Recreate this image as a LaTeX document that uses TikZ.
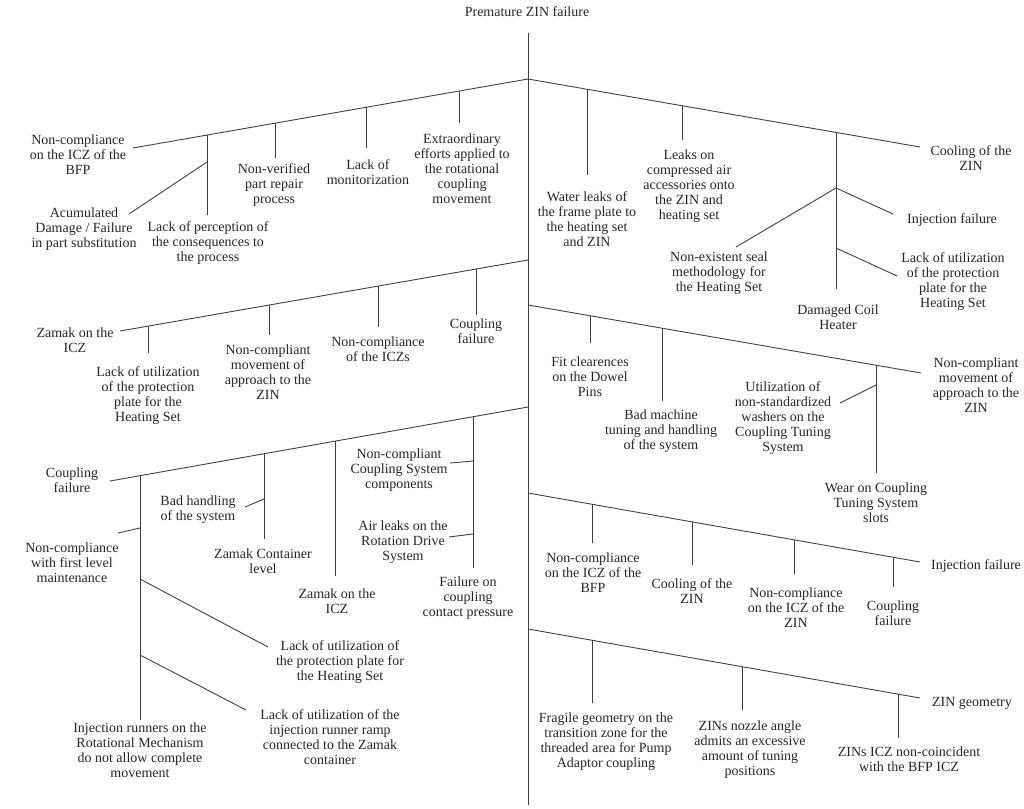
\documentclass[tikz,border=0pt]{standalone}
\usepackage{fontspec}
\setmainfont{Liberation Serif}
\begin{document}
\begin{tikzpicture}[x=1pt,y=-1pt,
  lbl/.style={align=center,inner sep=0pt,text=black!85,font=\fontsize{14}{15}\selectfont},
  ln/.style={line width=0.9pt,draw=black!75}]
\useasboundingbox (0,0) rectangle (1024,808);
% ---------- spine ----------
\node[lbl] (title) at (527,12) {Premature ZIN failure};
\coordinate (top) at (528,33);
\coordinate (bot) at (528,805);
\draw[ln] (top) -- (bot);
% ---------- L1 ----------
\coordinate (sL1) at (528,79);  \coordinate (eL1) at (133,148);
\coordinate (L1a) at (207,135.1); \coordinate (L1ab) at (207,215);
\coordinate (L1d) at (207,162);   \coordinate (L1de) at (129,214);
\coordinate (L1b) at (275,123.2); \coordinate (L1bb) at (275,158);
\coordinate (L1c) at (366,107.3); \coordinate (L1cb) at (366,148);
\coordinate (L1e) at (459,91.1);  \coordinate (L1eb) at (459,123);
\draw[ln] (sL1) -- (eL1);
\draw[ln] (L1a) -- (L1ab);
\draw[ln] (L1d) -- (L1de);
\draw[ln] (L1b) -- (L1bb);
\draw[ln] (L1c) -- (L1cb);
\draw[ln] (L1e) -- (L1eb);
\node[lbl] (nL1) at (78,155) {Non-compliance\\on the ICZ of the\\BFP};
\node[lbl] (nL1d) at (84,229) {Acumulated\\Damage / Failure\\in part substitution};
\node[lbl] (nL1a) at (208,243) {Lack of perception of\\the consequences to\\the process};
\node[lbl] (nL1b) at (274,185) {Non-verified\\part repair\\process};
\node[lbl] (nL1c) at (368,172) {Lack of\\monitorization};
\node[lbl] (nL1e) at (462,169) {Extraordinary\\efforts applied to\\the rotational\\coupling\\movement};
% ---------- R1 ----------
\coordinate (sR1) at (528,79);  \coordinate (eR1) at (920,147);
\coordinate (R1a) at (587,89.2);  \coordinate (R1ab) at (587,175);
\coordinate (R1b) at (682,105.7); \coordinate (R1bb) at (682,140);
\coordinate (R1c) at (836,132.4); \coordinate (R1cb) at (836,289);
\coordinate (R1j1) at (836,188);  \coordinate (R1j1l) at (736,247); \coordinate (R1j1r) at (893,214);
\coordinate (R1j2) at (836,248);  \coordinate (R1j2r) at (897,276);
\draw[ln] (sR1) -- (eR1);
\draw[ln] (R1a) -- (R1ab);
\draw[ln] (R1b) -- (R1bb);
\draw[ln] (R1c) -- (R1cb);
\draw[ln] (R1j1) -- (R1j1l);
\draw[ln] (R1j1) -- (R1j1r);
\draw[ln] (R1j2) -- (R1j2r);
\node[lbl] (nR1) at (971,158) {Cooling of the\\ZIN};
\node[lbl] (nR1a) at (587,219) {Water leaks of\\the frame plate to\\the heating set\\and ZIN};
\node[lbl] (nR1b) at (689,186) {Leaks on\\compressed air\\accessories onto\\the ZIN and\\heating set};
\node[lbl] (nR1l) at (719,273) {Non-existent seal\\methodology for\\the Heating Set};
\node[lbl] (nR1r) at (952,220) {Injection failure};
\node[lbl] (nR1p) at (953,282) {Lack of utilization\\of the protection\\plate for the\\Heating Set};
\node[lbl] (nR1c) at (838,317) {Damaged Coil\\Heater};
% ---------- L2 ----------
\coordinate (sL2) at (528,260); \coordinate (eL2) at (120,331);
\coordinate (L2a) at (148,326.1); \coordinate (L2ab) at (148,353);
\coordinate (L2b) at (269,305.1); \coordinate (L2bb) at (269,335);
\coordinate (L2c) at (378,286.1); \coordinate (L2cb) at (378,327);
\coordinate (L2d) at (476,269);   \coordinate (L2db) at (476,315);
\draw[ln] (sL2) -- (eL2);
\draw[ln] (L2a) -- (L2ab);
\draw[ln] (L2b) -- (L2bb);
\draw[ln] (L2c) -- (L2cb);
\draw[ln] (L2d) -- (L2db);
\node[lbl] (nL2) at (75,340) {Zamak on the\\ICZ};
\node[lbl] (nL2a) at (148,396) {Lack of utilization\\of the protection\\plate for the\\Heating Set};
\node[lbl] (nL2b) at (268,372) {Non-compliant\\movement of\\approach to the\\ZIN};
\node[lbl] (nL2c) at (378,349) {Non-compliance\\of the ICZs};
\node[lbl] (nL2d) at (476,331) {Coupling\\failure};
% ---------- R2 ----------
\coordinate (sR2) at (528,305); \coordinate (eR2) at (921,373);
\coordinate (R2a) at (590,315.7); \coordinate (R2ab) at (590,343);
\coordinate (R2b) at (662,328.2); \coordinate (R2bb) at (662,401);
\coordinate (R2c) at (876,365.2); \coordinate (R2cb) at (876,473);
\coordinate (R2d) at (876,385);   \coordinate (R2de) at (840,403);
\draw[ln] (sR2) -- (eR2);
\draw[ln] (R2a) -- (R2ab);
\draw[ln] (R2b) -- (R2bb);
\draw[ln] (R2c) -- (R2cb);
\draw[ln] (R2d) -- (R2de);
\node[lbl] (nR2) at (976,385) {Non-compliant\\movement of\\approach to the\\ZIN};
\node[lbl] (nR2a) at (590,377) {Fit clearences\\on the Dowel\\Pins};
\node[lbl] (nR2b) at (661,431) {Bad machine\\tuning and handling\\of the system};
\node[lbl] (nR2d) at (783,418) {Utilization of\\non-standardized\\washers on the\\Coupling Tuning\\System};
\node[lbl] (nR2c) at (876,503) {Wear on Coupling\\Tuning System\\slots};
% ---------- L3 ----------
\coordinate (sL3) at (528,407); \coordinate (eL3) at (110,481);
\coordinate (L3a) at (140,475.7); \coordinate (L3ab) at (140,720);
\coordinate (L3a1) at (140,528);  \coordinate (L3a1e) at (118,533);
\coordinate (L3a2) at (140,579);  \coordinate (L3a2e) at (268,647);
\coordinate (L3a3) at (140,655);  \coordinate (L3a3e) at (246,710);
\coordinate (L3b) at (264,453.7); \coordinate (L3bb) at (264,539);
\coordinate (L3b1) at (264,499);  \coordinate (L3b1e) at (245,507);
\coordinate (L3c) at (335,441.2); \coordinate (L3cb) at (335,576);
\coordinate (L3d) at (473,416.7); \coordinate (L3db) at (473,568);
\coordinate (L3d1) at (473,461);  \coordinate (L3d1e) at (450,463);
\coordinate (L3d2) at (473,534);  \coordinate (L3d2e) at (449,537);
\draw[ln] (sL3) -- (eL3);
\draw[ln] (L3a) -- (L3ab);
\draw[ln] (L3a1) -- (L3a1e);
\draw[ln] (L3a2) -- (L3a2e);
\draw[ln] (L3a3) -- (L3a3e);
\draw[ln] (L3b) -- (L3bb);
\draw[ln] (L3b1) -- (L3b1e);
\draw[ln] (L3c) -- (L3cb);
\draw[ln] (L3d) -- (L3db);
\draw[ln] (L3d1) -- (L3d1e);
\draw[ln] (L3d2) -- (L3d2e);
\node[lbl] (nL3) at (72,480) {Coupling\\failure};
\node[lbl] (nL3a1) at (72,563) {Non-compliance\\with first level\\maintenance};
\node[lbl] (nL3a2) at (340,662) {Lack of utilization of\\the protection plate for\\the Heating Set};
\node[lbl] (nL3a3) at (330,737) {Lack of utilization of the\\injection runner ramp\\connected to the Zamak\\container};
\node[lbl] (nL3a) at (140,750) {Injection runners on the\\Rotational Mechanism\\do not allow complete\\movement};
\node[lbl] (nL3b1) at (198,510) {Bad handling\\of the system};
\node[lbl] (nL3b) at (263,561) {Zamak Container\\level};
\node[lbl] (nL3c) at (337,601) {Zamak on the\\ICZ};
\node[lbl] (nL3d1) at (399,470) {Non-compliant\\Coupling System\\components};
\node[lbl] (nL3d2) at (403,542) {Air leaks on the\\Rotation Drive\\System};
\node[lbl] (nL3d) at (468,598) {Failure on\\coupling\\contact pressure};
% ---------- R3 ----------
\coordinate (sR3) at (528,493); \coordinate (eR3) at (920,562);
\coordinate (R3a) at (592,504.3); \coordinate (R3ab) at (592,543);
\coordinate (R3b) at (692,521.9); \coordinate (R3bb) at (692,565);
\coordinate (R3c) at (794,539.8); \coordinate (R3cb) at (794,574);
\coordinate (R3d) at (893,557.2); \coordinate (R3db) at (893,587);
\draw[ln] (sR3) -- (eR3);
\draw[ln] (R3a) -- (R3ab);
\draw[ln] (R3b) -- (R3bb);
\draw[ln] (R3c) -- (R3cb);
\draw[ln] (R3d) -- (R3db);
\node[lbl] (nR3) at (976,566) {Injection failure};
\node[lbl] (nR3a) at (593,573) {Non-compliance\\on the ICZ of the\\BFP};
\node[lbl] (nR3b) at (692,591) {Cooling of the\\ZIN};
\node[lbl] (nR3c) at (796,608) {Non-compliance\\on the ICZ of the\\ZIN};
\node[lbl] (nR3d) at (893,613) {Coupling\\failure};
% ---------- R4 ----------
\coordinate (sR4) at (528,629); \coordinate (eR4) at (920,698);
\coordinate (R4a) at (592,640.3); \coordinate (R4ab) at (592,703);
\coordinate (R4b) at (742,666.7); \coordinate (R4bb) at (742,710);
\coordinate (R4c) at (898,694.1); \coordinate (R4cb) at (898,738);
\draw[ln] (sR4) -- (eR4);
\draw[ln] (R4a) -- (R4ab);
\draw[ln] (R4b) -- (R4bb);
\draw[ln] (R4c) -- (R4cb);
\node[lbl] (nR4) at (972,703) {ZIN geometry};
\node[lbl] (nR4a) at (606,742) {Fragile geometry on the\\transition zone for the\\threaded area for Pump\\Adaptor coupling};
\node[lbl] (nR4b) at (750,750) {ZINs nozzle angle\\admits an excessive\\amount of tuning\\positions};
\node[lbl] (nR4c) at (909,759) {ZINs ICZ non-coincident\\with the BFP ICZ};
\end{tikzpicture}
\end{document}
